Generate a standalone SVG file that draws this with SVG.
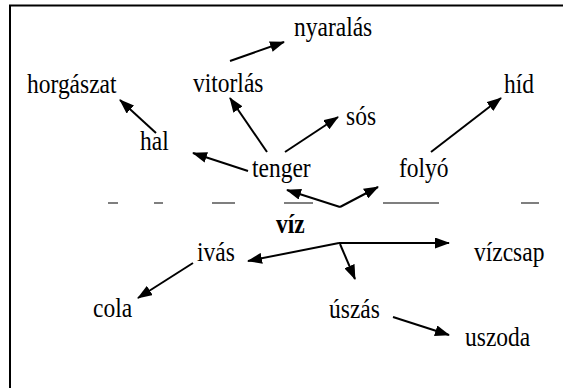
<svg xmlns="http://www.w3.org/2000/svg" width="563" height="388" viewBox="0 0 563 388">
<defs>
<style>
.t{font-family:"Liberation Serif","Times New Roman",serif;font-size:23.5px;fill:#000}
.b{font-weight:bold}
.c{stroke:#000;stroke-width:2;fill:none}
.d{stroke:#555;stroke-width:1.5}
</style>
<marker id="ah" markerUnits="userSpaceOnUse" markerWidth="15" markerHeight="11" refX="14" refY="5.5" orient="auto">
<path d="M0,0 L15,5.5 L0,11 z" fill="#000"/>
</marker>
</defs>
<rect width="563" height="388" fill="#fff"/>
<path d="M10,400 L10,5.5 L570,5.5" stroke="#000" stroke-width="2" fill="none"/>
<g id="divider">
<line class="d" x1="108" y1="203" x2="118" y2="203"/>
<line class="d" x1="154" y1="203" x2="163" y2="203"/>
<line class="d" x1="212" y1="203" x2="235" y2="203"/>
<line class="d" x1="284" y1="203" x2="313" y2="203"/>
<line class="d" x1="383" y1="203" x2="439" y2="203"/>
<line class="d" x1="521" y1="203" x2="539" y2="203"/>
</g>
<g id="connectors">
<line class="c" x1="230" y1="61" x2="284" y2="42" marker-end="url(#ah)"/>
<line class="c" x1="156" y1="133" x2="120" y2="100" marker-end="url(#ah)"/>
<line class="c" x1="267" y1="152" x2="230" y2="98" marker-end="url(#ah)"/>
<line class="c" x1="285" y1="152" x2="338" y2="117" marker-end="url(#ah)"/>
<line class="c" x1="248" y1="171" x2="193" y2="153" marker-end="url(#ah)"/>
<line class="c" x1="431" y1="152" x2="501" y2="98" marker-end="url(#ah)"/>
<line class="c" x1="340" y1="207" x2="287" y2="190" marker-end="url(#ah)"/>
<line class="c" x1="340" y1="207" x2="378" y2="187" marker-end="url(#ah)"/>
<line class="c" x1="339" y1="243" x2="248" y2="261" marker-end="url(#ah)"/>
<line class="c" x1="339" y1="243" x2="449" y2="243" marker-end="url(#ah)"/>
<line class="c" x1="340" y1="244" x2="355" y2="279" marker-end="url(#ah)"/>
<line class="c" x1="193" y1="263" x2="138" y2="298" marker-end="url(#ah)"/>
<line class="c" x1="393" y1="317" x2="449" y2="335" marker-end="url(#ah)"/>
</g>
<g id="nyaralas"><text class="t" transform="translate(294,36) scale(1,1.2)">nyaralás</text></g>
<g id="horgaszat"><text class="t" transform="translate(27,93) scale(1,1.2)">horgászat</text></g>
<g id="vitorlas"><text class="t" transform="translate(193,92) scale(1,1.2)">vitorlás</text></g>
<g id="hid"><text class="t" transform="translate(504,93) scale(1,1.2)">híd</text></g>
<g id="sos"><text class="t" transform="translate(346,125) scale(1,1.2)">sós</text></g>
<g id="hal"><text class="t" transform="translate(140,150) scale(1,1.2)">hal</text></g>
<g id="tenger"><text class="t" transform="translate(252,177) scale(1,1.2)">tenger</text></g>
<g id="folyo"><text class="t" transform="translate(399,177) scale(1,1.2)">folyó</text></g>
<g id="viz"><text class="t b" transform="translate(276,233) scale(1,1.2)">víz</text></g>
<g id="ivas"><text class="t" transform="translate(197,261) scale(1,1.2)">ivás</text></g>
<g id="vizcsap"><text class="t" transform="translate(474,261) scale(1,1.2)">vízcsap</text></g>
<g id="cola"><text class="t" transform="translate(93,317) scale(1,1.2)">cola</text></g>
<g id="uszas"><text class="t" transform="translate(329,318) scale(1,1.2)">úszás</text></g>
<g id="uszoda"><text class="t" transform="translate(465,346) scale(1,1.2)">uszoda</text></g>
</svg>
